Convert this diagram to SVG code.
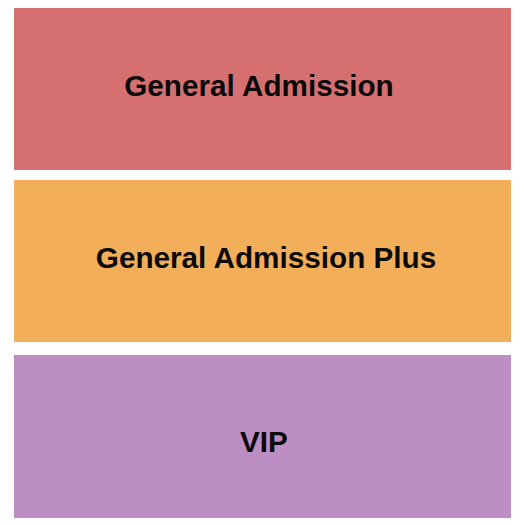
<svg xmlns="http://www.w3.org/2000/svg" width="525" height="525" viewBox="0 0 525 525">
<style>
.lbl{font-family:"Liberation Sans",Arial,sans-serif;font-weight:bold;font-size:29.7px;fill:#0a0a0a;text-anchor:middle}
</style>
<rect width="525" height="525" fill="#fff"/>
<g id="ga">
<rect x="14" y="8" width="497" height="162" fill="#D67070"/>
<text class="lbl" x="259" y="96">General Admission</text>
</g>
<g id="gap">
<rect x="14" y="180" width="497" height="162" fill="#F3AE5A"/>
<text class="lbl" x="266" y="268">General Admission Plus</text>
</g>
<g id="vip">
<rect x="14" y="355" width="497" height="163" fill="#BC8EC3"/>
<text class="lbl" x="264" y="452">VIP</text>
</g>
<g id="connectors"/>
</svg>
